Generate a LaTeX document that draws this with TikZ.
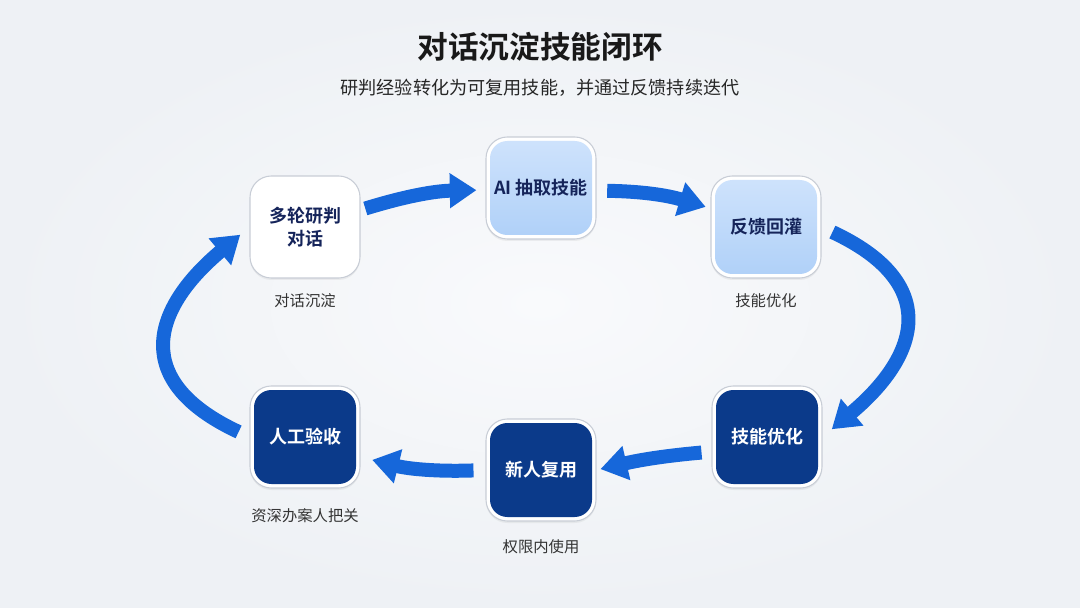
\documentclass[tikz,border=0pt]{standalone}
\usepackage{fontspec}
\setmainfont{Noto Sans CJK SC}[BoldFont={Noto Sans CJK SC Bold}]
\usetikzlibrary{arrows.meta,shadows,calc}
\definecolor{bgout}{HTML}{EEF1F5}
\definecolor{bgin}{HTML}{F9FAFC}
\definecolor{cardedge}{HTML}{C8CDD6}
\definecolor{navyfill}{HTML}{0B3A8A}
\definecolor{navytext}{HTML}{15245A}
\definecolor{lighttop}{HTML}{CFE3FC}
\definecolor{lightbot}{HTML}{AFD0F8}
\definecolor{flowblue}{HTML}{1667DA}
\definecolor{capgray}{HTML}{333333}
\tikzset{
  card/.style={draw=cardedge, line width=0.8pt, fill=white, rounded corners=16pt,
    minimum width=82.5pt, minimum height=76.5pt, inner sep=0pt, align=center,
    font=\bfseries\fontsize{13.5}{17}\selectfont,
    drop shadow={shadow xshift=0pt, shadow yshift=-1.5pt, opacity=0.10}},
  whitecard/.style={card, text=navytext},
  lightcard/.style={card, text=navytext,
    path picture={\shade[top color=lighttop, bottom color=lightbot, rounded corners=13pt]
      ([shift={(3pt,3pt)}]path picture bounding box.south west) rectangle
      ([shift={(-3pt,-3pt)}]path picture bounding box.north east);}},
  darkcard/.style={card, text=white,
    path picture={\fill[navyfill, rounded corners=13pt]
      ([shift={(3pt,3pt)}]path picture bounding box.south west) rectangle
      ([shift={(-3pt,-3pt)}]path picture bounding box.north east);}},
  caption/.style={text=capgray, font=\fontsize{11.5}{14}\selectfont, inner sep=0pt},
  flow/.style={draw=flowblue, line width=10.5pt, -{Triangle[length=20pt,width=25pt]}},
}
\begin{document}
\begin{tikzpicture}[x=0.75pt,y=0.75pt]
\useasboundingbox (0,0) rectangle (1080,607);
\shade[inner color=bgin, outer color=bgout] (0,0) rectangle (1080,607);

% title
\node[font=\bfseries\fontsize{23}{28}\selectfont, text=black!90] (title) at (540,560) {对话沉淀技能闭环};
\node[font=\fontsize{13.6}{17}\selectfont, text=black!85] (sub) at (540,519) {研判经验转化为可复用技能，并通过反馈持续迭代};

% cards
\node[whitecard] (n1) at (305,380) {多轮研判\\对话};
\node[lightcard] (n2) at (541,419) {AI 抽取技能};
\node[lightcard] (n3) at (766,380) {反馈回灌};
\node[darkcard]  (n4) at (767,170) {技能优化};
\node[darkcard]  (n5) at (541,137) {新人复用};
\node[darkcard]  (n6) at (305,170) {人工验收};

% captions
\node[caption] (c1) at ([yshift=-16.5pt]n1.south) {对话沉淀};
\node[caption] (c3) at ([yshift=-16.5pt]n3.south) {技能优化};
\node[caption] (c5) at ([yshift=-19pt]n5.south) {权限内使用};
\node[caption] (c6) at ([yshift=-20pt]n6.south) {资深办案人把关};

% arrows
\draw[flow, shorten <=3.75pt, shorten >=6.75pt]
  ([yshift=12.75pt]n1.east) to[bend left=8] ([yshift=-1.5pt]n2.west);
\draw[flow, shorten <=8pt, shorten >=3.75pt]
  ([yshift=-2pt]n2.east) to[bend left=8] ([yshift=14pt]n3.west);
\draw[flow, shorten <=9pt, shorten >=9pt]
  (n3.east) .. controls +(-25:130) and +(40:130) .. (n4.east);
\draw[flow, shorten <=7.5pt, shorten >=3pt]
  ([yshift=-11pt]n4.west) to[bend right=4] (n5.east);
\draw[flow, shorten <=9pt, shorten >=9pt]
  (n5.west) to[bend left=8] ([yshift=-15pt]n6.east);
\draw[flow, shorten <=9pt, shorten >=9pt]
  (n6.west) .. controls +(155:130) and +(220:130) .. (n1.west);
\end{tikzpicture}
\end{document}
